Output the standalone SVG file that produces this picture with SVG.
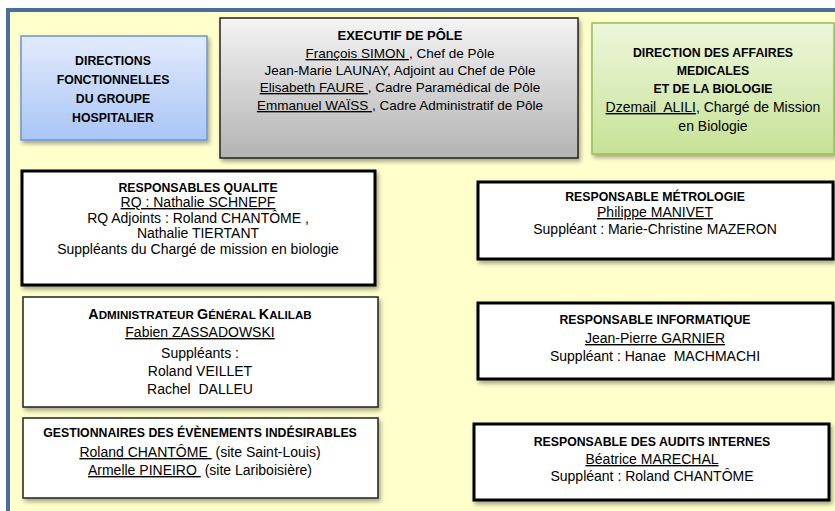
<svg xmlns="http://www.w3.org/2000/svg" width="835" height="511" viewBox="0 0 835 511">
<style>
text{font-family:"Liberation Sans",Arial,sans-serif;font-size:14px;fill:#000;text-anchor:middle}
.b{font-weight:bold;font-size:12.3px}
.u{text-decoration:underline}
.e{font-size:13.5px}
.sc{font-size:11.6px}
.thick{fill:#fff;stroke:#000;stroke-width:3}
.thin{fill:#fff;stroke:#222;stroke-width:1.5}
</style>
<defs>
<linearGradient id="gBlue" x1="0" y1="0" x2="0" y2="1"><stop offset="0" stop-color="#e2ebfc"/><stop offset="1" stop-color="#a9c6f6"/></linearGradient>
<linearGradient id="gGray" x1="0" y1="0" x2="0" y2="1"><stop offset="0" stop-color="#f4f4f4"/><stop offset="1" stop-color="#b3b3b3"/></linearGradient>
<linearGradient id="gGreen" x1="0" y1="0" x2="0" y2="1"><stop offset="0" stop-color="#eef7dc"/><stop offset="1" stop-color="#c6e296"/></linearGradient>
<filter id="sh" x="-10%" y="-10%" width="120%" height="130%"><feDropShadow dx="2" dy="3" stdDeviation="2" flood-color="#000" flood-opacity="0.35"/></filter>
</defs>
<rect x="0" y="0" width="835" height="511" fill="#fff"/>
<rect id="frame" x="8" y="10" width="840" height="520" fill="#ffffcc" stroke="#4a6d9c" stroke-width="4"/>
<g id="connectors"/>
<g id="directions-fonctionnelles">
<rect x="21" y="36" width="186" height="104" fill="url(#gBlue)" stroke="#6e93d6" stroke-width="1.5" filter="url(#sh)"/>
<text class="b" x="113" y="65">DIRECTIONS</text>
<text class="b" x="113" y="84">FONCTIONNELLES</text>
<text class="b" x="113" y="103">DU GROUPE</text>
<text class="b" x="113" y="122">HOSPITALIER</text>
</g>
<g id="executif">
<rect x="220" y="18" width="358" height="140" fill="url(#gGray)" stroke="#222" stroke-width="1.5" filter="url(#sh)"/>
<text class="b" x="400" y="40" style="font-size:13px">EXECUTIF DE PÔLE</text>
<text class="e" x="400" y="58"><tspan class="u">François SIMON </tspan>, Chef de Pôle</text>
<text class="e" x="400" y="75">Jean-Marie LAUNAY, Adjoint au Chef de Pôle</text>
<text class="e" x="400" y="92"><tspan class="u">Elisabeth FAURE </tspan>, Cadre Paramédical de Pôle</text>
<text class="e" x="400" y="110"><tspan class="u">Emmanuel WAÏSS </tspan>, Cadre Administratif de Pôle</text>
</g>
<g id="direction-affaires-medicales">
<rect x="592" y="23" width="242" height="131" fill="url(#gGreen)" stroke="#9bbb59" stroke-width="1.5" filter="url(#sh)"/>
<text class="b" x="713" y="57">DIRECTION DES AFFAIRES</text>
<text class="b" x="713" y="75">MEDICALES</text>
<text class="b" x="713" y="93">ET DE LA BIOLOGIE</text>
<text x="713" y="112"><tspan class="u">Dzemail&#160; ALILI</tspan>, Chargé de Mission</text>
<text x="713" y="131">en Biologie</text>
</g>
<g id="responsables-qualite">
<rect class="thick" x="22" y="171" width="353" height="114" filter="url(#sh)"/>
<text class="b" x="198" y="192">RESPONSABLES QUALITE</text>
<text class="u" x="198" y="207">RQ : Nathalie SCHNEPF</text>
<text x="198" y="223">RQ Adjoints : Roland CHANTÔME ,</text>
<text x="198" y="238">Nathalie TIERTANT</text>
<text x="198" y="254">Suppléants du Chargé de mission en biologie</text>
</g>
<g id="responsable-metrologie">
<rect class="thick" x="478" y="182" width="355" height="77" filter="url(#sh)"/>
<text class="b" x="655" y="201">RESPONSABLE MÉTROLOGIE</text>
<text class="u" x="655" y="217">Philippe MANIVET</text>
<text x="655" y="234">Suppléant : Marie-Christine MAZERON</text>
</g>
<g id="administrateur-kalilab">
<rect class="thin" x="23" y="297" width="355" height="110" filter="url(#sh)"/>
<text class="b" x="200" y="319" style="font-size:14.3px"><tspan>A</tspan><tspan class="sc">DMINISTRATEUR </tspan><tspan>G</tspan><tspan class="sc">ÉNÉRAL </tspan><tspan>K</tspan><tspan class="sc">ALILAB</tspan></text>
<text class="u" x="200" y="337">Fabien ZASSADOWSKI</text>
<text x="200" y="358">Suppléants :</text>
<text x="200" y="376">Roland VEILLET</text>
<text x="200" y="394">Rachel&#160; DALLEU</text>
</g>
<g id="gestionnaires-ei">
<rect class="thin" x="23" y="418" width="355" height="80" filter="url(#sh)"/>
<text class="b" x="200" y="437">GESTIONNAIRES DES ÉVÈNEMENTS INDÉSIRABLES</text>
<text x="200" y="457"><tspan class="u">Roland CHANTÔME&#160;</tspan> (site Saint-Louis)</text>
<text x="200" y="475"><tspan class="u">Armelle PINEIRO&#160;</tspan> (site Lariboisière)</text>
</g>
<g id="responsable-informatique">
<rect class="thick" x="478" y="303" width="355" height="76" filter="url(#sh)"/>
<text class="b" x="655" y="324">RESPONSABLE INFORMATIQUE</text>
<text class="u" x="655" y="343">Jean-Pierre GARNIER</text>
<text x="655" y="361">Suppléant : Hanae&#160; MACHMACHI</text>
</g>
<g id="responsable-audits">
<rect class="thick" x="474" y="424" width="355" height="76" filter="url(#sh)"/>
<text class="b" x="652" y="446">RESPONSABLE DES AUDITS INTERNES</text>
<text class="u" x="652" y="464">Béatrice MARECHAL</text>
<text x="652" y="481">Suppléant : Roland CHANTÔME</text>
</g>
</svg>
